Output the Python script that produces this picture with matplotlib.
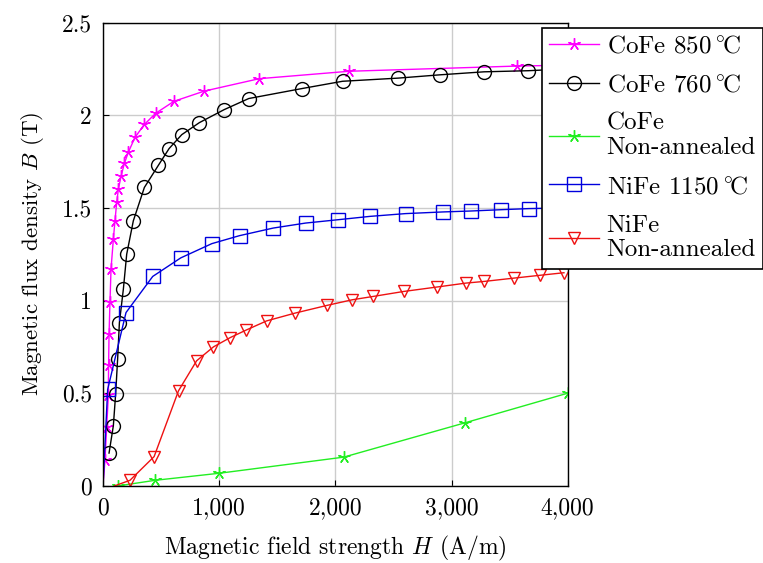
#!/usr/bin/env python3
"""B-H magnetization curves for CoFe and NiFe samples."""

import matplotlib
matplotlib.use("Agg")
import matplotlib.pyplot as plt
from matplotlib.ticker import FuncFormatter

plt.rcParams["font.family"] = ["cmr10", "DejaVu Serif"]
plt.rcParams["mathtext.fontset"] = "cm"
plt.rcParams["axes.formatter.use_mathtext"] = True

# CoFe annealed at 850 C
h_cofe850 = [0, 17, 32, 46, 48, 52, 60, 69, 89, 103, 118, 132, 155, 184, 218,
             275, 356, 453, 611, 872, 1345, 2118, 3560, 4000]
b_cofe850 = [0, 0.14, 0.32, 0.49, 0.65, 0.82, 0.99, 1.17, 1.33, 1.43, 1.53, 1.60,
             1.67, 1.74, 1.80, 1.88, 1.95, 2.01, 2.075, 2.13, 2.197, 2.237, 2.265, 2.27]

# CoFe annealed at 760 C
h_cofe760 = [52, 89, 109, 126, 141, 175, 204, 261, 356, 477, 569, 678, 830, 1043,
             1255, 1715, 2062, 2540, 2905, 3280, 3660, 4000]
b_cofe760 = [0.177, 0.324, 0.497, 0.686, 0.88, 1.06, 1.25, 1.43, 1.61, 1.73, 1.82,
             1.895, 1.96, 2.03, 2.09, 2.144, 2.183, 2.20, 2.218, 2.234, 2.24, 2.25]

# CoFe, non-annealed
h_cofe_raw = [132, 448, 1000, 2072, 3115, 4000]
b_cofe_raw = [0, 0.03, 0.068, 0.155, 0.34, 0.5]

# NiFe annealed at 1150 C
h_nife1150 = [0, 40, 198, 428, 669, 937, 1175, 1465, 1744, 2024, 2297, 2604,
              2927, 3166, 3424, 3665, 4000]
b_nife1150 = [0, 0.52, 0.935, 1.13, 1.23, 1.307, 1.35, 1.391, 1.418, 1.436, 1.454,
              1.469, 1.478, 1.483, 1.49, 1.496, 1.50]

# NiFe, non-annealed
h_nife_raw = [100, 232, 440, 650, 806, 951, 1095, 1230, 1408, 1652, 1930, 2145,
              2325, 2589, 2876, 3123, 3280, 3538, 3759, 3968]
b_nife_raw = [0, 0.03, 0.158, 0.513, 0.675, 0.75, 0.80, 0.84, 0.89, 0.932, 0.974,
              1.004, 1.022, 1.049, 1.073, 1.094, 1.103, 1.121, 1.136, 1.15]

deg = "$\\,^{\\circ}\\!\\mathrm{C}$"
labels = ["CoFe 850" + deg, "CoFe 760" + deg, "CoFe\nNon-annealed",
          "NiFe 1150" + deg, "NiFe\nNon-annealed"]

fig = plt.figure(figsize=(7.63, 5.63), dpi=100)
ax = fig.add_axes([0.135, 0.137, 0.609, 0.823])

star = (5, 2, 0)
common = dict(lw=1.0, markerfacecolor="none", markeredgewidth=1.0)

ax.plot(h_cofe850, b_cofe850, color="magenta", marker=star, ms=9,
        markevery=slice(1, None), label=labels[0], **common)
ax.plot(h_cofe760, b_cofe760, color="black", marker="o", ms=10,
        label=labels[1], **common)
ax.plot(h_cofe_raw, b_cofe_raw, color="#22ee22", marker=star, ms=9,
        label=labels[2], **common)
ax.plot(h_nife1150, b_nife1150, color="#0000dd", marker="s", ms=10,
        markevery=slice(1, None), label=labels[3], **common)
ax.plot(h_nife_raw, b_nife_raw, color="#ee1111", marker="v", ms=9,
        markevery=slice(1, None), label=labels[4], **common)

ax.set_xlim(0, 4000)
ax.set_ylim(0, 2.5)
ax.set_xticks([0, 1000, 2000, 3000, 4000])
ax.set_yticks([0, 0.5, 1, 1.5, 2, 2.5])
ax.xaxis.set_major_formatter(FuncFormatter(lambda v, p: f"{v:,.0f}"))
ax.yaxis.set_major_formatter(FuncFormatter(lambda v, p: f"{v:g}"))
ax.tick_params(direction="in", length=4, labelsize=17, pad=8)
ax.grid(True, color="#cccccc", lw=1.0)
ax.set_axisbelow(True)
for s in ax.spines.values():
    s.set_linewidth(1.0)

ax.set_xlabel("Magnetic field strength $H$ (A/m)", fontsize=17, labelpad=11)
ax.set_ylabel("Magnetic flux density $B$ (T)", fontsize=16.5, labelpad=11)

leg = ax.legend(loc="upper left", bbox_to_anchor=(0.944, 0.989), fontsize=18,
                frameon=True, fancybox=False, framealpha=1.0, edgecolor="black",
                handlelength=2.0, borderaxespad=0, labelspacing=0.65,
                handletextpad=0.3, borderpad=0.3)
leg.get_frame().set_linewidth(1.2)
for t in leg.get_texts():
    t.set_multialignment("left")
    t.set_linespacing(1.15)

fig.savefig("out.png", dpi=100)
